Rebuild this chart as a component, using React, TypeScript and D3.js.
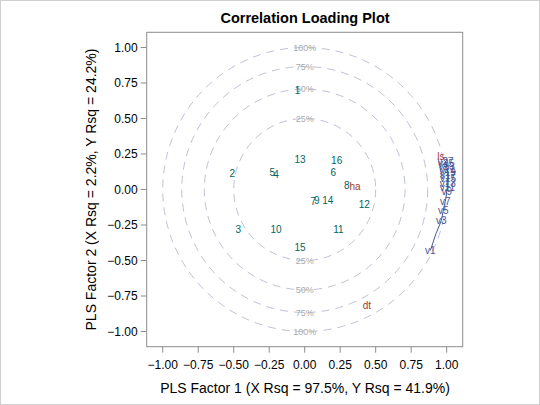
import React from "react";
import * as d3 from "d3";

const obsNames = ["1","2","3","4","5","6","7","8","9","10","11","12","13","14","15","16"];
const obsX = [-0.05,-0.51,-0.468,-0.202,-0.228,0.201,0.061,0.296,0.085,-0.202,0.237,0.42,-0.033,0.162,-0.033,0.225];
const obsY = [0.694,0.114,-0.28,0.107,0.121,0.121,-0.081,0.025,-0.074,-0.28,-0.28,-0.104,0.208,-0.074,-0.41,0.203];

const yNames = ["ls","ha","dt"];
const yX = [0.96,0.354,0.438];
const yY = [0.231,0.018,-0.82];

const xVarNames = Array.from({length: 27}, (_, i) => "v" + (i + 1));
const xVarX = [0.885,0.925,0.962,0.97,0.976,0.983,0.99,0.996,1.0,1.003,1.005,1.007,1.008,1.009,1.01,1.01,1.01,1.009,1.008,1.007,1.005,1.003,1.0,0.998,0.996,0.994,0.992];
const xVarY = [-0.43,-0.31,-0.22,-0.18,-0.15,-0.115,-0.086,-0.05,-0.015,0.0,0.015,0.03,0.045,0.06,0.075,0.09,0.1,0.11,0.12,0.13,0.14,0.15,0.16,0.17,0.18,0.19,0.2];

const circlePct = [25, 50, 75, 100];
const xTicks = [-1,-0.75,-0.5,-0.25,0,0.25,0.5,0.75,1];
const yTicks = [-1,-0.75,-0.5,-0.25,0,0.25,0.5,0.75,1];

const title = "Correlation Loading Plot";
const xLabel = "PLS Factor 1 (X Rsq = 97.5%, Y Rsq = 41.9%)";
const yLabel = "PLS Factor 2 (X Rsq = 2.2%, Y Rsq = 24.2%)";

const W = 540, H = 405;
const L = 146.7, R = 462.7, T = 32.3, B = 346.7;
const FONT = "Arial, 'Liberation Sans', sans-serif";
const OBS_C = "#01665E";
const XV_C = "#445694";
const YV_C = "#A23A2E";
const CIRC_C = "#BEC2D6";
const AXIS_C = "#8C8C8C";

export default function App() {
  const x = d3.scaleLinear().domain([-1.113, 1.113]).range([L, R]);
  const y = d3.scaleLinear().domain([-1.107, 1.107]).range([B, T]);
  const line = d3.line<number>().x((_, i) => x(xVarX[i])).y((_, i) => y(xVarY[i]));
  const fmt = d3.format(".2f");
  return (
    <svg width={W} height={H} style={{ position: "absolute", left: 0, top: 0 }} fontFamily={FONT}>
      <rect x={0.5} y={0.5} width={W - 1} height={H - 1} fill="white" stroke="#D0D0D0" />
      <text x={305} y={23} textAnchor="middle" fontSize={14.5} fontWeight="bold" fill="#000">{title}</text>
      <rect x={L} y={T} width={R - L} height={B - T} fill="white" stroke={AXIS_C} />
      {circlePct.map((p) => {
        const r = Math.sqrt(p / 100);
        return (
          <g key={p}>
            <ellipse cx={x(0)} cy={y(0)} rx={x(r) - x(0)} ry={y(0) - y(r)} fill="none" stroke={CIRC_C} strokeDasharray="8,6" strokeWidth={1} />
            <text x={x(0)} y={y(r)} dy="0.35em" textAnchor="middle" fontSize={9} fill="#AAAAAA">{p}%</text>
            <text x={x(0)} y={y(-r)} dy="0.35em" textAnchor="middle" fontSize={9} fill="#AAAAAA">{p}%</text>
          </g>
        );
      })}
      <path d={line(xVarX) || ""} fill="none" stroke={XV_C} strokeWidth={1} />
      {xVarNames.map((n, i) => (i % 2 === 0 ? (
        <text key={n} x={x(xVarX[i])} y={y(xVarY[i])} dy="0.35em" textAnchor="middle" fontSize={10} fill={XV_C}>{n}</text>
      ) : null))}
      {obsNames.map((n, i) => (
        <text key={n} x={x(obsX[i])} y={y(obsY[i])} dy="0.35em" textAnchor="middle" fontSize={10} fill={OBS_C}>{n}</text>
      ))}
      {yNames.map((n, i) => (
        <text key={n} x={x(yX[i])} y={y(yY[i])} dy="0.35em" textAnchor="middle" fontSize={10} fill={YV_C}>{n}</text>
      ))}
      {xTicks.map((t) => (
        <g key={"x" + t}>
          <line x1={x(t)} x2={x(t)} y1={B} y2={B + 6} stroke={AXIS_C} />
          <text x={x(t)} y={B + 18} dy="0.35em" textAnchor="middle" fontSize={12} fill="#000">{fmt(t)}</text>
        </g>
      ))}
      {yTicks.map((t) => (
        <g key={"y" + t}>
          <line x1={L - 6} x2={L} y1={y(t)} y2={y(t)} stroke={AXIS_C} />
          <text x={L - 9} y={y(t)} dy="0.35em" textAnchor="end" fontSize={12} fill="#000">{fmt(t)}</text>
        </g>
      ))}
      <text x={305} y={388} dy="0.35em" textAnchor="middle" fontSize={14} fill="#000">{xLabel}</text>
      <text transform={`translate(91,${189.5}) rotate(-90)`} dy="0.35em" textAnchor="middle" fontSize={14} fill="#000">{yLabel}</text>
    </svg>
  );
}
